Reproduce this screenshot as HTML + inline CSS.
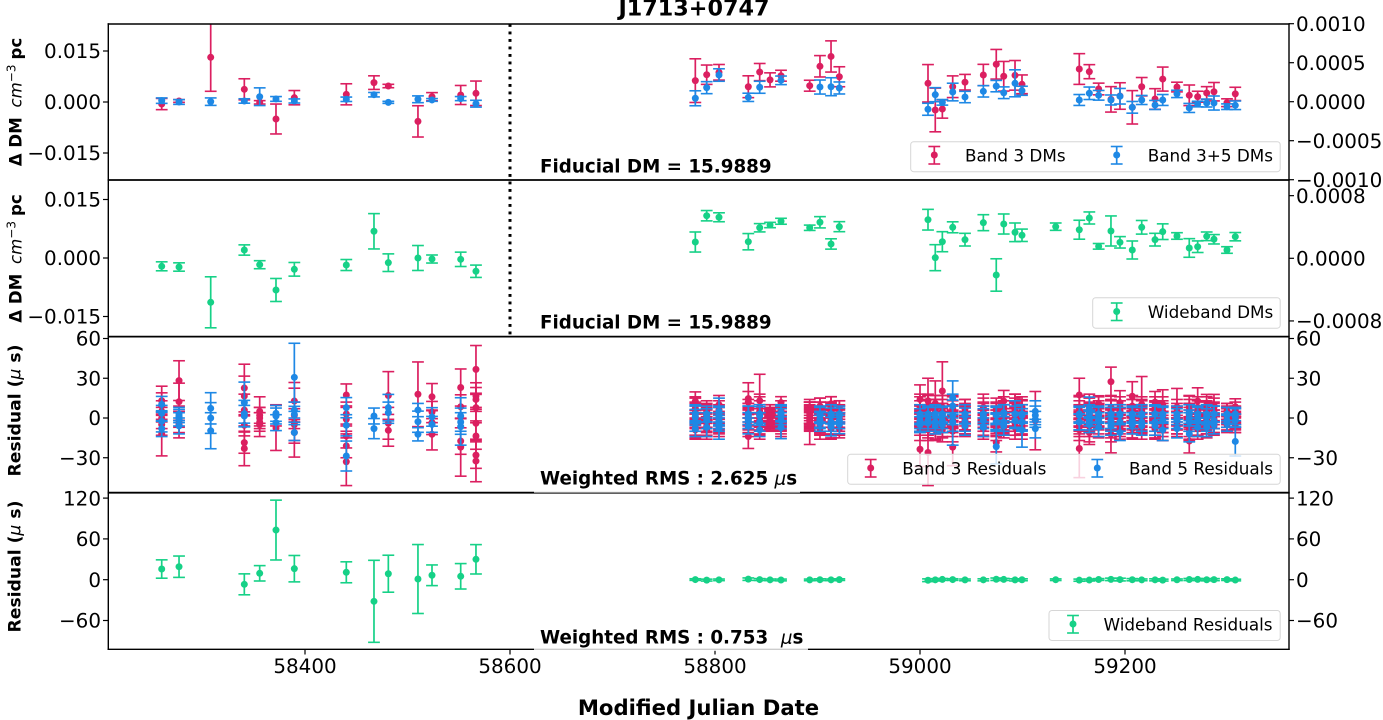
<!DOCTYPE html>
<html lang="en">
<head>
<meta charset="utf-8">
<title>J1713+0747 timing residuals</title>
<style>
html,body{margin:0;padding:0;background:#fff;}
svg{display:block;font-family:"DejaVu Sans","Liberation Sans",sans-serif;}
</style>
</head>
<body>
<svg id="chart" xmlns="http://www.w3.org/2000/svg" width="1383" height="720" viewBox="0 0 1383 720">
  <defs>
    <clipPath id="clip-p1"><rect x="108" y="24" width="1181" height="156"/></clipPath>
    <clipPath id="clip-p2"><rect x="108" y="180" width="1181" height="156.5"/></clipPath>
    <clipPath id="clip-p3"><rect x="108" y="336.5" width="1181" height="156"/></clipPath>
    <clipPath id="clip-p4"><rect x="108" y="492.5" width="1181" height="156.5"/></clipPath>
  </defs>
  <g id="marks"></g>
  <g id="axes"></g>

  <line x1="510" y1="24" x2="510" y2="336" stroke="#000" stroke-width="3" stroke-dasharray="2.9 4.6"/>

  <text x="694" y="15.5" text-anchor="middle" font-size="22.3" font-weight="bold">J1713+0747</text>
  <text x="698.5" y="715" text-anchor="middle" font-size="21.2" font-weight="bold">Modified Julian Date</text>

  <text transform="translate(21.5,102) rotate(-90)" text-anchor="middle" font-size="16.6" font-weight="bold">Δ DM <tspan font-weight="normal" font-style="italic" dx="4">cm</tspan><tspan font-weight="normal" font-size="12" dy="-6">−3</tspan><tspan dy="6" dx="5">pc</tspan></text>
  <text transform="translate(21.5,258.5) rotate(-90)" text-anchor="middle" font-size="16.6" font-weight="bold">Δ DM <tspan font-weight="normal" font-style="italic" dx="4">cm</tspan><tspan font-weight="normal" font-size="12" dy="-6">−3</tspan><tspan dy="6" dx="5">pc</tspan></text>
  <text transform="translate(20.5,410.5) rotate(-90)" text-anchor="middle" font-size="17.2" font-weight="bold">Residual (<tspan font-weight="normal" font-style="italic">μ</tspan> s)</text>
  <text transform="translate(20.5,566.5) rotate(-90)" text-anchor="middle" font-size="17.2" font-weight="bold">Residual (<tspan font-weight="normal" font-style="italic">μ</tspan> s)</text>

  <g>
    <text x="540" y="172.5" font-size="18.3" font-weight="bold">Fiducial DM = 15.9889</text>
  </g>
  <g>
    <text x="540" y="328.5" font-size="18.3" font-weight="bold">Fiducial DM = 15.9889</text>
  </g>
  <g>
    <rect x="534" y="467" width="266" height="25.7" fill="#fff" fill-opacity="0.8"/>
    <text x="540" y="484.5" font-size="18.3" font-weight="bold">Weighted RMS : 2.625 <tspan font-weight="normal" font-style="italic">μ</tspan>s</text>
  </g>
  <g>
    <rect x="534" y="627" width="274" height="24" fill="#fff" fill-opacity="0.8"/>
    <text x="540" y="643.5" font-size="18.3" font-weight="bold" xml:space="preserve">Weighted RMS : 0.753  <tspan font-weight="normal" font-style="italic">μ</tspan>s</text>
  </g>

  <g id="legends"></g>
</svg>

<script>
// ---------- palette ----------
const red = '#DB1F60';
const blue = '#1E88E5';
const green = '#16D187';

// ---------- axis tick data ----------
const xTicks = [58400, 58600, 58800, 59000, 59200];
const p1LeftTicks = [0.015, 0, -0.015];
const p1LeftLabels = ['0.015', '0.000', '−0.015'];
const p1RightTicks = [0.001, 0.0005, 0, -0.0005, -0.001];
const p1RightLabels = ['0.0010', '0.0005', '0.0000', '−0.0005', '−0.0010'];
const p2LeftTicks = [0.015, 0, -0.015];
const p2LeftLabels = ['0.015', '0.000', '−0.015'];
const p2RightTicks = [0.0008, 0, -0.0008];
const p2RightLabels = ['0.0008', '0.0000', '−0.0008'];
const p3Ticks = [60, 30, 0, -30];
const p3Labels = ['60', '30', '0', '−30'];
const p4Ticks = [120, 60, 0, -60];
const p4Labels = ['120', '60', '0', '−60'];

// ---------- epochs ----------
const earlyMjd = [58260.2,58277.1,58308.0,58340.8,58355.8,58371.7,58389.6,58440.3,58467.3,58481.3,58510.2,58523.9,58551.9,58566.8];
const lateMjd = [58780.8,58791.9,58803.9,58832.5,58843.6,58853.7,58864.4,58892.4,58902.4,58913.2,58921.3,59007.8,59014.9,59021.8,59031.9,59043.9,59061.8,59074.4,59081.7,59092.7,59099.5,59132.4,59155.4,59165.2,59174.3,59186.3,59195.1,59207.1,59216.3,59229.3,59236.8,59250.7,59262.7,59270.9,59279.7,59286.8,59299.5,59307.6];

// ---------- panel 1: band DMs ----------
const band3EarlyDm = [-0.0006,0.0003,0.01315,0.00373,-0.0001,-0.005,0.00127,0.00226,0.0057,0.0047,-0.0057,0.00156,0.00206,0.00256];
const band3EarlyErr = [0.00165,0.0004,0.01,0.0031,0.0005,0.0044,0.0021,0.0031,0.002,0.0005,0.0046,0.0012,0.0028,0.0036];
const band35EarlyDm = [0.0004,0,0.0001,0.0003,0.00156,0.0009,0.0003,0.0008,0.00215,-0.0001,0.0008,0.0006,0.001,-0.0005];
const band35EarlyErr = [0.0008,0.0007,0.0011,0.00065,0.0026,0.0007,0.0006,0.00065,0.00065,0.0003,0.001,0.0004,0.0006,0.001];
const band3LateDm = [0.00027,0.000346,0.000377,0.000192,0.00038,0.00028,0.000333,0.000205,0.000454,0.00058,0.00032,0.000236,-0.000106,-0.000094,0.000192,0.00025,0.000342,0.00048,0.000326,0.000338,0.000223,null,0.000419,0.000385,0.000163,0.00003,0.000073,-0.000072,0.000192,0.000035,0.00029,0.000188,0.000082,0.000064,0.000112,0.000128,-0.000013,0.0001];
const band3LateErr = [0.00028,0.000124,0.0001,0.00014,0.00011,0.00009,0.00007,0.00007,0.000137,0.0002,0.000128,0.00024,0.00028,0.000117,0.000139,0.0001,0.000137,0.00019,0.00019,0.00019,0.00012,null,0.000197,0.00009,0.000075,0.000163,0.00017,0.000214,0.000118,0.000132,0.000154,0.000062,0.000132,0.00007,0.000081,0.000118,0.00005,0.000085];
const band35LateDm = [0.000044,0.00018,0.000342,0.000056,0.000185,null,0.000274,null,0.000188,0.000192,0.000176,-0.000097,0.00009,-0.000008,0.000124,0.00006,0.000133,0.0002,0.000115,0.000236,0.00014,null,0.000022,0.000108,0.000082,0.000022,0.00007,-0.000072,0.000022,-0.000042,0.000022,0.0001,-0.00008,-0.00003,-0.000017,-0.000017,-0.000064,-0.000046];
const band35LateErr = [0.000096,0.000077,0.00008,0.000053,0.000077,null,0.000055,null,0.00009,0.000115,0.000077,0.000077,0.00009,0.000036,0.000113,0.000073,0.000073,0.000073,0.000075,0.000173,0.000058,null,0.00007,0.00008,0.000062,0.000064,0.0001,0.000075,0.000058,0.000058,0.00007,0.000047,0.000058,0.000036,0.000051,0.00009,0.000036,0.000055];

// ---------- panel 2: wideband DMs ----------
const wideEarlyDm = [-0.00213,-0.00231,-0.01136,0.00205,-0.00172,-0.0082,-0.0029,-0.0018,0.00685,-0.0012,0,-0.00026,-0.00034,-0.0034];
const wideEarlyErr = [0.00115,0.00107,0.00654,0.00132,0.00103,0.00295,0.00175,0.00141,0.00453,0.00226,0.0032,0.00103,0.00184,0.00158];
const wideLateDm = [0.000208,0.000544,0.000524,0.000212,0.00039,0.000425,0.000473,0.00039,0.00046,0.000183,0.000404,0.000493,0.000008,0.000212,0.000396,0.000238,0.000455,-0.000213,0.000438,0.000332,0.000294,0.000404,0.000365,0.000515,0.000153,0.000349,0.000204,0.000106,0.000396,0.000238,0.00034,0.000285,0.000132,0.000148,0.000281,0.000243,0.000106,0.000276];
const wideLateErr = [0.000128,0.000066,0.000057,0.000104,0.000053,0.000034,0.000038,0.000034,0.000072,0.000066,0.000064,0.000132,0.000166,0.000128,0.00007,0.000081,0.000102,0.000207,0.000128,0.000119,0.000079,0.000047,0.000121,0.000077,0.000036,0.000192,0.000073,0.000115,0.000087,0.000081,0.0001,0.000042,0.000119,0.000074,0.000055,0.00006,0.000042,0.000053];

// ---------- panel 3: band residuals, several sub-band points per epoch ----------
const residMjd = [58260.2,58277.1,58308.0,58340.8,58355.8,58371.7,58389.6,58440.3,58467.3,58481.3,58510.2,58523.9,58551.9,58566.8,58780.8,58791.9,58803.9,58832.5,58843.6,58853.7,58864.4,58892.4,58902.4,58913.2,58921.3,59000,59007.8,59014.9,59021.8,59031.9,59043.9,59061.8,59074.4,59081.7,59092.7,59099.5,59112.5,59155.4,59165.2,59174.3,59186.3,59195.1,59207.1,59216.3,59229.3,59236.8,59250.7,59262.7,59270.9,59279.7,59286.8,59299.5,59307.6];
const band3Resid = [[-12,13,9,5,0,-5],[28.2,12.3,1,-3,-5],[],[22.6,16.6,6,-5.5,-18.6,-23],[5,2,0,-3,-5],[-7.5,2],[12.8,2,-3.5,-5,-11],[17.4,3,-1,-13.6,-21,-33],[],[17,-4,-9.3],[17.9],[16,4.5,-3.5,-12.3],[23,8.5,-17.4,-22],[36.7,16.6,14,7.8,-4,-13.6,-28,-32.5],[12.7,7,3,-1,-5,-9],[5,2,-1,-4,-8],[10,2,-2,-6],[14.6,12,3,-1,-14],[13,8,2,-4],[4,2,0,-2,-4],[11.6,3,-1,-4],[7,4,2,0,-2,-4],[9,5,0,-4,-6],[10.8,4,0,-5,-8],[8,3,-1,-4],[14,6,1,-3,-23.6],[13,8,2,-2,-7,-26],[11,6,1,-4,-9],[20.4,8,3,-3,-7],[7,2,-3,-22],[8,3,-2,-5],[8,3,-2,-6],[3,0,-7,-18.6],[12.8,5,0,-4],[10,4,0,-3,-7],[7.8,3,-2,-6],[-2],[17.4,8,2,-4,-23],[10,3,-2,-11],[10.8,4,0,-6],[27.4,5,-1,-12.3],[11.6,5,0,-6],[16.4,6,2,-3,-8],[10.3,6,1,-4],[12,5,0,-5,-8],[10.3,3,-3,-9],[8.3,2,-2,-6],[8.5,3,-2,-8,-17.4],[12.8,5,0,-5],[9.8,5,0,-5],[9.8,4,-1,-4],[5,2,-1,-4],[8.5,2,-2,-5]];
const band3ResidErr = [[16.6,11,10,8,8,8],[15,14,8,8,10],[],[18,15,12,8,8,13],[11,6,8,7,9],[17,8],[14,10,26,12,8],[8.3,9,9,9,9,18],[],[18,12,12],[24.4],[10,8,9,11.8],[14,9,10,21.9],[18,10,9,10,12,10,10,15.6],[7,9,8,7,8,6],[6,6,7,7,6],[7,6,6,5],[12,8,8,8,9],[20,10,8,8],[6,5,5,5,5],[4.5,6,6,6],[7,8,7,7,7,16],[6,7,7,7,6],[5.3,7,7,7,8],[5,6,7,8],[11,12,8,8,13],[17,10,8,8,8,25],[17,8,8,8,8],[22,9,8,8,8],[9,8,8,14],[6,6,7,7],[10,8,8,8],[8,6,7,7],[8,8,7,7],[8,7,7,7,6],[6,7,7,7],[22],[12.6,9,8,8,22],[8,8,8,9],[6,7,7,8],[11,8,8,14],[9,8,8,8],[11,8,8,8,8],[21,8,8,7],[8,7,7,8,7],[11,8,8,8],[14,7,7,6],[8,8,8,8,9],[10,8,8,8],[8,7,7,7],[8,7,7,7],[6,6,6,6],[6,6,6,6]];
const band5Resid = [[10.3,3.5,-2.5,-8],[1.5,-1,-6,3],[7.3,0,-9.6],[11.6,3.3,1.5],[],[3.5,1.5,-3.5],[30.7,6,2.8,-11],[7.8,-5.5,-28.7],[1.5,-8],[7.8,4],[6,-2.8,-12.3],[0.8,-4.8],[1.5,-3,-6.5],[],[0.5,3,-8],[2,-7],[5,1,-4,-8],[2,-6],[1.5,-9],[],[4,1,-7.3],[],[2,-1,-4],[1.5,-6.5],[1.5,-4.8],[1,-2,-5],[2,-4],[2,-6],[2,-5],[15.3,9,-3.5],[1.5,-6],[1,-7],[2,-3,-21.6],[4,-6],[3],[2,-3,-9],[5,2,-1,-8],[2,-3],[7.8,0,-5],[2,-7],[2,-2,-6],[2,-11],[2,-5],[2,-6],[3,-6],[2,-9],[1,-8],[4,0,-12],[2,-7],[1,-7],[3,-5],[2,-4],[1,-17.7]];
const band5ResidErr = [[6,6,8,6],[5,5,6,5],[11.8,11.6,13.6],[15.5,10,8],[],[6,6,6],[25.7,6,6,6],[7.6,8,11.3],[6,7.6],[10,8],[5,8,5],[7,6],[13.8,7,14],[],[6,6,6],[5,7],[10,7,6,8],[7,6],[7,5],[],[6,6,8.3],[],[6,6,6],[6,7],[6,7],[6,6,6],[6,6],[6,6],[6,6],[12.7,9,17],[6,7],[6,7],[6,6,13],[6,7],[10],[5,6,13],[8,7,6,7],[6,6],[8,6,6],[6,7],[6,6,7],[6,6],[6,7],[6,7],[6,7],[6,8],[6,7],[6,6,6],[6,7],[6,7],[6,7],[6,6],[6,11]];

// dense central sub-band points at the later epochs (one shared error per epoch)
const coreMjd = [58780.8,58791.9,58803.9,58832.5,58843.6,58853.7,58864.4,58892.4,58902.4,58913.2,58921.3,59000,59007.8,59014.9,59021.8,59031.9,59043.9,59061.8,59074.4,59081.7,59092.7,59099.5,59155.4,59165.2,59174.3,59186.3,59195.1,59207.1,59216.3,59229.3,59236.8,59250.7,59262.7,59270.9,59279.7,59286.8,59299.5,59307.6];
const band3Core = [[7,4,1,-2,-5,-8],[6,3,0,-3,-6,-9],[6,3,1,-2,-5,-7],[7,4,1,-1,-4,-7],[8,5,2,-1,-5,-8],[5,3,1,-1,-3,-5],[6,3,1,-2,-5,-7],[6,4,2,0,-2,-4],[7,4,1,-2,-5,-8],[8,4,1,-2,-5,-7],[6,3,0,-3,-6,-8],[8,5,2,-2,-5,-9],[9,6,2,-1,-5,-9],[9,6,3,-1,-4,-8],[8,5,2,-2,-5,-9],[9,5,1,-2,-6,-10],[7,4,1,-2,-5,-7],[7,4,1,-2,-5,-8],[7,4,1,-2,-5,-9],[8,5,2,-1,-4,-7],[9,6,3,-1,-4,-7],[8,5,2,-1,-4,-8],[8,5,1,-2,-6,-9],[7,4,1,-3,-6,-10],[8,5,2,-1,-4,-7],[8,5,1,-3,-6,-9],[8,5,2,-1,-4,-8],[9,6,2,-1,-4,-7],[8,5,2,-1,-4,-8],[8,5,1,-2,-5,-8],[8,5,1,-3,-6,-9],[7,4,1,-2,-5,-7],[8,5,2,-1,-5,-8],[8,5,1,-2,-5,-8],[8,5,2,-1,-4,-7],[8,5,2,-1,-4,-6],[5,3,1,-1,-3,-5],[6,3,1,-1,-3,-5]];
const band3CoreErr = [8,7,7,7,8,5,7,6,8,8,7,8,8,8,9,8,7,8,8,8,9,8,8,8,8,9,8,8,8,8,8,7,9,8,8,7,6,6];
const band5Core = [[3,-3],[3,-2],[3,-2],[3,-2],[3,-3],[],[3,-2],[],[3,-2],[3,-3],[3,-2],[3,-3],[3,-2],[3,-3],[3,-2],[2,-3],[3,-3],[3,-2],[2,-3],[3,-3],[3,-2],[3,-3],[3,-3],[3,-2],[3,-2],[3,-3],[3,-3],[3,-2],[3,-3],[3,-3],[3,-2],[3,-2],[3,-3],[3,-2],[3,-3],[3,-2],[3,-2],[3,-2]];
const band5CoreErr = [7,6,6,6,7,null,6,null,6,7,6,7,6,7,6,7,7,6,7,7,6,7,6,7,6,7,7,6,7,7,6,6,7,6,7,6,5,5];

// ---------- panel 4: wideband residuals ----------
const wideResidMjd = [58260.2,58277.1,58340.8,58355.8,58371.7,58389.6,58440.3,58467.3,58481.3,58510.2,58523.9,58551.9,58566.8,58780.8,58791.9,58803.9,58832.5,58843.6,58853.7,58864.4,58892.4,58902.4,58913.2,58921.3,59007.8,59014.9,59021.8,59031.9,59043.9,59061.8,59074.4,59081.7,59092.7,59099.5,59132.4,59155.4,59165.2,59174.3,59186.3,59195.1,59207.1,59216.3,59229.3,59236.8,59250.7,59262.7,59270.9,59279.7,59286.8,59299.5,59307.6];
const wideResid = [15.7,19.1,-6.8,9.4,73,16.2,10.9,-31.8,8.8,1,6.5,5,30,0.2,-0.6,-0.2,0.8,0.2,-0.2,-0.4,-0.3,0,-0.2,0.1,-0.8,-0.2,0.4,0.2,-0.3,-0.2,0.7,0.4,-0.3,-0.1,0,-0.7,-0.5,0.3,0.5,0.2,0,-0.2,-0.2,-0.6,-0.1,0.3,0.4,-0.1,0.1,0.1,-0.5];
const wideResidErr = [13.5,15.7,15.4,11.3,44,19.4,15.4,60.3,27.2,50.7,15.2,18.7,21.6,1.2,1.4,1.2,1.8,1.4,1.2,1.3,1.2,1.3,1.2,1.2,2,1.7,1.4,1.2,1.3,1.5,1.8,1.5,1.6,1.4,1.2,1.6,1.4,1.3,1.8,2,1.6,1.3,1.5,1.4,1.2,1.5,1.4,1.6,1.5,1.2,1.2];

// ---------- scales ----------
function xScale(mjd) { return 305 + (mjd - 58400) * 1.025; }
function p1Left(v) { return 102 - v * 3400; }
function p1Right(v) { return 101.7 - v * 78000; }
function p2Left(v) { return 258 - v * 3900; }
function p2Right(v) { return 258.3 - v * 78300; }
function p3Y(v) { return 418 - v * 1.325; }
function p4Y(v) { return 579.7 - v * 0.68; }

const NS = 'http://www.w3.org/2000/svg';
const marksRoot = document.getElementById('marks');
const axesRoot = document.getElementById('axes');
const legendRoot = document.getElementById('legends');

function svgEl(parent, tag, attrs) {
  const el = document.createElementNS(NS, tag);
  for (const k in attrs) el.setAttribute(k, attrs[k]);
  parent.appendChild(el);
  return el;
}

function errorBar(parent, cx, cy, yTop, yBot, color, name) {
  const g = svgEl(parent, 'g', {});
  
  
  svgEl(g, 'line', {x1: cx, x2: cx, y1: yTop, y2: yBot, stroke: color, 'stroke-width': 1.7});
  svgEl(g, 'line', {x1: cx - 5.9, x2: cx + 5.9, y1: yTop, y2: yTop, stroke: color, 'stroke-width': 1.6});
  svgEl(g, 'line', {x1: cx - 5.9, x2: cx + 5.9, y1: yBot, y2: yBot, stroke: color, 'stroke-width': 1.6});
  svgEl(g, 'circle', {cx: cx, cy: cy, r: 3.5, fill: color});
}

function panelGroup(clipId, name) {
  const g = svgEl(marksRoot, 'g', {'clip-path': 'url(#' + clipId + ')'});
  
  
  return g;
}

function drawSeries(parent, mjds, vals, errs, yFn, color, name) {
  mjds.forEach(function (m, i) {
    const v = vals[i];
    if (v === null || v === undefined) return;
    const e = errs[i];
    errorBar(parent, xScale(m), yFn(v), yFn(v + e), yFn(v - e), color, name);
  });
}

function drawNested(parent, mjds, vals, errs, yFn, color, name) {
  mjds.forEach(function (m, i) {
    vals[i].forEach(function (v, j) {
      const e = errs[i][j];
      errorBar(parent, xScale(m), yFn(v), yFn(v + e), yFn(v - e), color, name);
    });
  });
}

function drawCore(parent, mjds, vals, errs, yFn, color, name) {
  mjds.forEach(function (m, i) {
    vals[i].forEach(function (v) {
      errorBar(parent, xScale(m), yFn(v), yFn(v + errs[i]), yFn(v - errs[i]), color, name);
    });
  });
}

// ---------- marks ----------
const g1 = panelGroup('clip-p1', 'band-dm-panel');
drawSeries(g1, earlyMjd, band3EarlyDm, band3EarlyErr, p1Left, red, 'band-3-dm-point');
drawSeries(g1, lateMjd, band3LateDm, band3LateErr, p1Right, red, 'band-3-dm-point');
drawSeries(g1, earlyMjd, band35EarlyDm, band35EarlyErr, p1Left, blue, 'band-3-5-dm-point');
drawSeries(g1, lateMjd, band35LateDm, band35LateErr, p1Right, blue, 'band-3-5-dm-point');

const g2 = panelGroup('clip-p2', 'wideband-dm-panel');
drawSeries(g2, earlyMjd, wideEarlyDm, wideEarlyErr, p2Left, green, 'wideband-dm-point');
drawSeries(g2, lateMjd, wideLateDm, wideLateErr, p2Right, green, 'wideband-dm-point');

const g3 = panelGroup('clip-p3', 'band-residual-panel');
drawCore(g3, coreMjd, band3Core, band3CoreErr, p3Y, red, 'band-3-residual-point');
drawNested(g3, residMjd, band3Resid, band3ResidErr, p3Y, red, 'band-3-residual-point');
drawCore(g3, coreMjd, band5Core, band5CoreErr, p3Y, blue, 'band-5-residual-point');
drawNested(g3, residMjd, band5Resid, band5ResidErr, p3Y, blue, 'band-5-residual-point');

const g4 = panelGroup('clip-p4', 'wideband-residual-panel');
drawSeries(g4, wideResidMjd, wideResid, wideResidErr, p4Y, green, 'wideband-residual-point');

// ---------- axes ----------
function tickLabel(x, y, text, anchor, name) {
  const t = svgEl(axesRoot, 'text', {x: x, y: y, 'text-anchor': anchor, 'font-size': 19.9, fill: '#000'});
  t.textContent = text;
  
  
}

function yTicks(ticks, labels, yFn, side, name) {
  ticks.forEach(function (v, i) {
    const y = yFn(v);
    const x1 = side === 'left' ? 108 : 1289;
    const x2 = side === 'left' ? 103 : 1294;
    const tk = svgEl(axesRoot, 'line', {x1: x1, x2: x2, y1: y, y2: y, stroke: '#000', 'stroke-width': 1.2});
    
    
    if (side === 'left') tickLabel(101, y + 7.2, labels[i], 'end', name + '-label');
    else tickLabel(1296, y + 7.2, labels[i], 'start', name + '-label');
  });
}

function spine(x1, y1, x2, y2, w, name) {
  const s = svgEl(axesRoot, 'line', {x1: x1, y1: y1, x2: x2, y2: y2, stroke: '#000', 'stroke-width': w});
  
  
}

spine(108.3, 23.3, 108.3, 650, 1.4, 'left-spine');
spine(1289, 23.3, 1289, 650, 1.4, 'right-spine');
spine(107.6, 24, 1289.7, 24, 1.4, 'top-spine');
spine(107.6, 180, 1289.7, 180, 1.8, 'panel-1-2-divider');
spine(107.6, 336.6, 1289.7, 336.6, 1.8, 'panel-2-3-divider');
spine(107.6, 492.7, 1289.7, 492.7, 1.8, 'panel-3-4-divider');
spine(107.6, 649.3, 1289.7, 649.3, 1.4, 'bottom-spine');

yTicks(p1LeftTicks, p1LeftLabels, p1Left, 'left', 'band-dm-left-axis');
yTicks(p1RightTicks, p1RightLabels, p1Right, 'right', 'band-dm-right-axis');
yTicks(p2LeftTicks, p2LeftLabels, p2Left, 'left', 'wideband-dm-left-axis');
yTicks(p2RightTicks, p2RightLabels, p2Right, 'right', 'wideband-dm-right-axis');
yTicks(p3Ticks, p3Labels, p3Y, 'left', 'band-residual-left-axis');
yTicks(p3Ticks, p3Labels, p3Y, 'right', 'band-residual-right-axis');
yTicks(p4Ticks, p4Labels, p4Y, 'left', 'wideband-residual-left-axis');
yTicks(p4Ticks, p4Labels, p4Y, 'right', 'wideband-residual-right-axis');

xTicks.forEach(function (m) {
  const x = xScale(m);
  const tk = svgEl(axesRoot, 'line', {x1: x, x2: x, y1: 649.3, y2: 654.5, stroke: '#000', 'stroke-width': 1.2});
  
  
  tickLabel(x, 673, String(m), 'middle', 'x-axis-label');
});

// ---------- legends ----------
function legendBox(x, y, w, h, name) {
  const g = svgEl(legendRoot, 'g', {});
  
  
  svgEl(g, 'rect', {x: x, y: y, width: w, height: h, rx: 3, fill: '#fff', 'fill-opacity': 0.8, stroke: '#d6d6d6', 'stroke-width': 1});
  return g;
}

function legendEntry(parent, hx, tx, cy, color, label, name) {
  const g = svgEl(parent, 'g', {});
  
  
  errorBar(g, hx, cy - 0.5, cy - 9, cy + 8.5, color, name + '-handle');
  const t = svgEl(g, 'text', {x: tx, y: cy + 6, 'font-size': 16.8, fill: '#000'});
  t.textContent = label;
}

const lg1 = legendBox(910.7, 141.7, 369.5, 30, 'band-dm-legend');
legendEntry(lg1, 934.3, 965, 155.5, red, 'Band 3 DMs', 'legend-band-3-dms');
legendEntry(lg1, 1116.7, 1147.7, 155.5, blue, 'Band 3+5 DMs', 'legend-band-3-5-dms');

const lg2 = legendBox(1092.7, 297.7, 187.5, 30.5, 'wideband-dm-legend');
legendEntry(lg2, 1116.7, 1147.7, 312, green, 'Wideband DMs', 'legend-wideband-dms');

const lg3 = legendBox(847.7, 454.3, 432.5, 30, 'band-residual-legend');
legendEntry(lg3, 870.7, 902.3, 468.5, red, 'Band 3 Residuals', 'legend-band-3-residuals');
legendEntry(lg3, 1097.3, 1129, 468.5, blue, 'Band 5 Residuals', 'legend-band-5-residuals');

const lg4 = legendBox(1049, 610.5, 231.2, 30, 'wideband-residual-legend');
legendEntry(lg4, 1073, 1103.5, 624.5, green, 'Wideband Residuals', 'legend-wideband-residuals');
</script>
</body>
</html>
